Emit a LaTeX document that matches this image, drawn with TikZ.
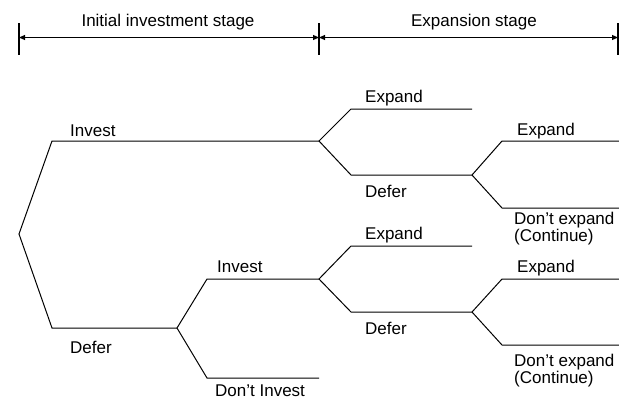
\documentclass[tikz,border=0pt]{standalone}
\usepackage{fontspec}
\setmainfont{Liberation Sans}
\usetikzlibrary{arrows.meta}
\tikzset{
  branch/.style={line width=1bp, black},
  tick/.style={line width=1.2bp, black},
  dimarrow/.style={line width=1bp, black, {Triangle[length=6bp,width=5bp]}-{Triangle[length=6bp,width=5bp]}},
  lbl/.style={anchor=base west, inner sep=0pt, font=\fontsize{17bp}{19bp}\selectfont},
  hdr/.style={anchor=base, inner sep=0pt, font=\fontsize{17bp}{19bp}\selectfont}
}
\begin{document}
\begin{tikzpicture}[x=1bp,y=-1bp]
\useasboundingbox (0,0) rectangle (619,400);
% header
\coordinate (tlT) at (19,23); \coordinate (tlB) at (19,55);
\coordinate (tmT) at (319,23); \coordinate (tmB) at (319,55);
\coordinate (trT) at (618,23); \coordinate (trB) at (618,55);
\coordinate (al) at (19,37.5); \coordinate (am) at (319,37.5); \coordinate (ar) at (618,37.5);
\draw[tick] (tlT) -- (tlB);
\draw[tick] (tmT) -- (tmB);
\draw[tick] (trT) -- (trB);
\draw[dimarrow] (al) -- (am);
\draw[dimarrow] (am) -- (ar);
\node[hdr] (h1) at (168,26.5) {Initial investment stage};
\node[hdr] (h2) at (474,26.5) {Expansion stage};
% tree vertices
\coordinate (root) at (19,234);
\coordinate (a1) at (52,141); \coordinate (n1) at (319,141);
\coordinate (a2) at (52,328); \coordinate (n2) at (177,328);
\coordinate (b1) at (207,279); \coordinate (n3) at (319,279);
\coordinate (b2) at (207,378); \coordinate (e1) at (319,378);
\coordinate (c1) at (351,109); \coordinate (e2) at (472,109);
\coordinate (c2) at (351,175); \coordinate (n4) at (472,175);
\coordinate (d1) at (502,141); \coordinate (e3) at (619,141);
\coordinate (d2) at (502,208); \coordinate (e4) at (619,208);
\coordinate (f1) at (351,246); \coordinate (e5) at (472,246);
\coordinate (f2) at (351,312); \coordinate (n5) at (472,312);
\coordinate (g1) at (502,279); \coordinate (e6) at (619,279);
\coordinate (g2) at (502,345); \coordinate (e7) at (619,345);
% branches
\draw[branch] (n1) -- (a1) -- (root) -- (a2) -- (n2);
\draw[branch] (n3) -- (b1) -- (n2) -- (b2) -- (e1);
\draw[branch] (e2) -- (c1) -- (n1) -- (c2) -- (n4);
\draw[branch] (e3) -- (d1) -- (n4) -- (d2) -- (e4);
\draw[branch] (e5) -- (f1) -- (n3) -- (f2) -- (n5);
\draw[branch] (e6) -- (g1) -- (n5) -- (g2) -- (e7);
% labels
\node[lbl] (l1) at (70,136) {Invest};
\node[lbl] (l2) at (70,353) {Defer};
\node[lbl] (l3) at (217,272) {Invest};
\node[lbl] (l4) at (215,396) {Don’t Invest};
\node[lbl] (l5) at (365,102) {Expand};
\node[lbl] (l6) at (365,197) {Defer};
\node[lbl] (l7) at (517,135) {Expand};
\node[lbl] (l8) at (514,224) {Don’t expand};
\node[lbl] (l8b) at (514,241) {(Continue)};
\node[lbl] (l9) at (365,239) {Expand};
\node[lbl] (l10) at (365,334) {Defer};
\node[lbl] (l11) at (517,272) {Expand};
\node[lbl] (l12) at (514,366) {Don’t expand};
\node[lbl] (l12b) at (514,383) {(Continue)};
\end{tikzpicture}
\end{document}
